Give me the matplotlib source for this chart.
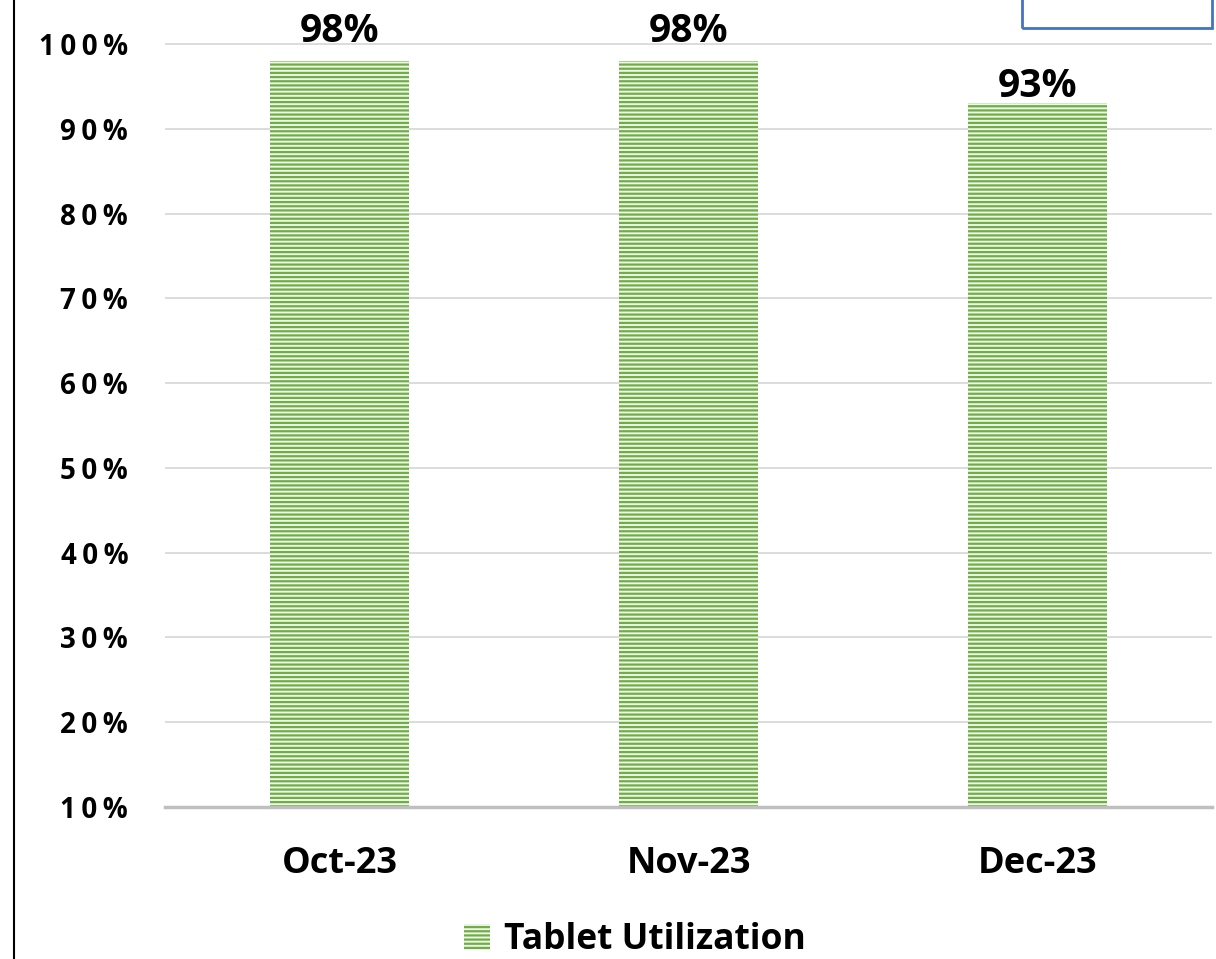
import matplotlib.pyplot as plt
from matplotlib.patches import Rectangle
from matplotlib.lines import Line2D
from matplotlib.ticker import FuncFormatter

months = ['Oct-23', 'Nov-23', 'Dec-23']
utilization = [0.98, 0.98, 0.93]
series_name = 'Tablet Utilization'
y_ticks = [0.1, 0.2, 0.3, 0.4, 0.5, 0.6, 0.7, 0.8, 0.9, 1.0]

plt.rcParams['font.family'] = ['Open Sans', 'DejaVu Sans']
plt.rcParams['font.weight'] = 'bold'
plt.rcParams['hatch.linewidth'] = 1.6

W, H = 1216, 959
fig = plt.figure(figsize=(W / 100, H / 100), dpi=100)
# axes box in pixels: left 165, right 1212, bottom (y=807), top at image top
ax = fig.add_axes([165 / W, 1 - 807 / H, (1212 - 165) / W, 807 / H])

x = list(range(len(months)))
bars = ax.bar(x, utilization, width=0.4, bottom=0, color='#eef6e8',
              edgecolor='#70AD47', hatch='----', linewidth=0, zorder=2,
              label=series_name)

# labels sit just above the bar; if that would cut through the 100% line,
# push them up to sit on top of it instead
gap, cap = 0.007, 0.034
for xi, v in zip(x, utilization):
    ty = v + gap
    if ty < 1.0 < ty + cap:
        ty = 1.002
    ax.text(xi, ty, f'{v:.0%}', ha='center', va='baseline',
            fontsize=28, fontweight='bold', color='black', zorder=3)

ax.set_xlim(-0.5, 2.5)
ax.set_ylim(0.1, 1.0 + 44 / 84.8 * 0.1)
ax.set_yticks(y_ticks)
ax.yaxis.set_major_formatter(FuncFormatter(lambda v, p: '\u2009'.join(f'{v:.0%}')))
ax.set_xticks(x)
ax.set_xticklabels(months)
ax.tick_params(axis='y', length=0, pad=26.5, labelsize=20)
ax.tick_params(axis='x', length=0, pad=28, labelsize=26)
for lab in ax.get_yticklabels() + ax.get_xticklabels():
    lab.set_fontweight('bold')

ax.grid(axis='y', color='#d9d9d9', linewidth=1.3, zorder=0)
ax.set_axisbelow(True)
for s in ['top', 'right', 'left']:
    ax.spines[s].set_visible(False)
ax.spines['bottom'].set_color('#bfbfbf')
ax.spines['bottom'].set_linewidth(2.5)

leg = fig.legend(handles=[bars], loc='center', bbox_to_anchor=(0.522, 1 - 940 / H),
                 frameon=False, fontsize=25.5, handlelength=0.75, handleheight=0.75,
                 handletextpad=0.4)
for t in leg.get_texts():
    t.set_fontweight('bold')

# left border line and the stray blue box at top right
fig.add_artist(Line2D([14 / W, 14 / W], [0, 1], color='black', linewidth=1.5))
fig.add_artist(Rectangle((1022 / W, 1 - 28 / H), (1212 - 1022) / W, 40 / H,
                         fill=False, edgecolor='#4472C4', linewidth=2,
                         transform=fig.transFigure))

fig.savefig('out.png', dpi=100)
